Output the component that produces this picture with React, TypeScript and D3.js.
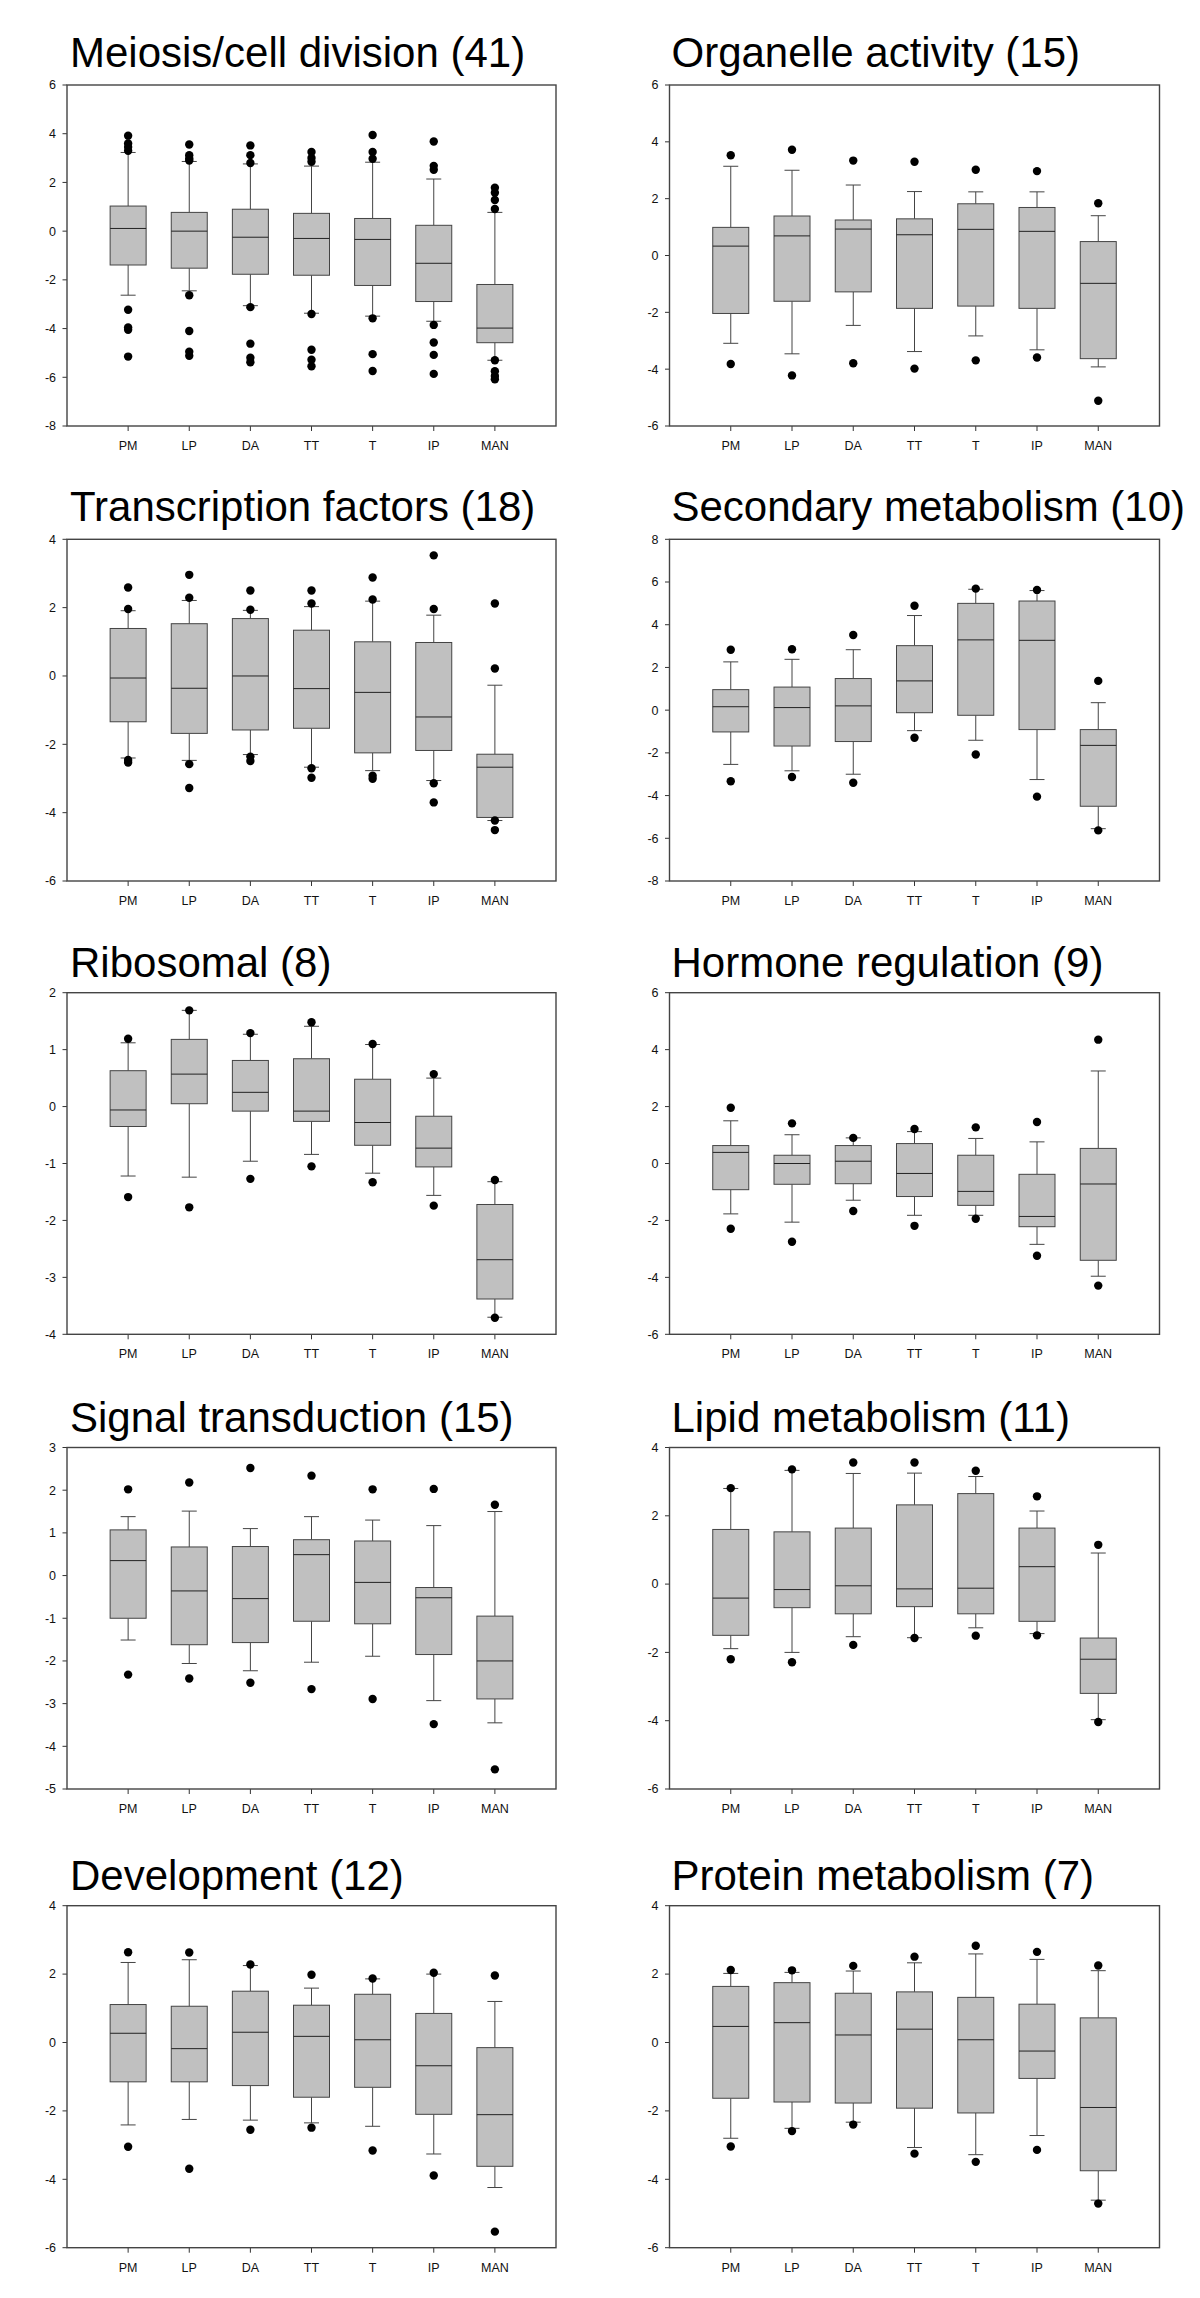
import React from 'react';
import * as d3 from 'd3';

const categories = ['PM', 'LP', 'DA', 'TT', 'T', 'IP', 'MAN'];

// Each box: [lower whisker, Q1, median, Q3, upper whisker]
const meiosisBoxes = [
  [-2.63, -1.39, 0.11, 1.03, 3.23],
  [-2.45, -1.52, 0.0, 0.77, 2.86],
  [-3.06, -1.77, -0.25, 0.9, 2.76],
  [-3.37, -1.81, -0.3, 0.73, 2.67],
  [-3.49, -2.23, -0.34, 0.52, 2.83],
  [-3.7, -2.89, -1.32, 0.24, 2.14],
  [-5.3, -4.58, -3.98, -2.19, 0.77],
];
const meiosisOutliers = [
  [3.92, 3.6, 3.45, 3.3, -3.23, -3.95, -4.05, -5.15],
  [3.56, 3.12, 2.98, 2.9, -2.63, -4.1, -4.95, -5.12],
  [3.52, 3.12, 2.8, -3.12, -4.62, -5.2, -5.38],
  [3.25, 3.0, 2.85, -3.4, -4.87, -5.28, -5.55],
  [3.95, 3.25, 2.97, -3.58, -5.05, -5.74],
  [3.68, 2.68, 2.52, -3.85, -4.57, -5.08, -5.86],
  [1.78, 1.58, 1.28, 0.91, -5.3, -5.75, -5.95, -6.08],
];

const organelleBoxes = [
  [-3.09, -2.04, 0.33, 0.99, 3.14],
  [-3.46, -1.61, 0.69, 1.39, 3.0],
  [-2.46, -1.28, 0.93, 1.25, 2.48],
  [-3.38, -1.86, 0.73, 1.29, 2.25],
  [-2.83, -1.78, 0.92, 1.82, 2.24],
  [-3.32, -1.86, 0.85, 1.69, 2.24],
  [-3.92, -3.63, -0.98, 0.49, 1.4],
];
const organelleOutliers = [
  [3.53, -3.82], [3.72, -4.22], [3.34, -3.79], [3.3, -3.98], [3.02, -3.69], [2.97, -3.59], [1.84, -5.11],
];

const transcriptionBoxes = [
  [-2.4, -1.34, -0.06, 1.39, 1.91],
  [-2.47, -1.68, -0.36, 1.53, 2.21],
  [-2.3, -1.58, 0.0, 1.68, 1.92],
  [-2.67, -1.53, -0.37, 1.34, 2.03],
  [-2.77, -2.25, -0.48, 1.0, 2.19],
  [-3.06, -2.18, -1.2, 0.98, 1.78],
  [-4.23, -4.14, -2.67, -2.29, -0.27],
];
const transcriptionOutliers = [
  [2.59, 1.96, -2.46, -2.53],
  [2.96, 2.29, -2.58, -3.28],
  [2.5, 1.94, -2.36, -2.49],
  [2.5, 2.12, -2.7, -2.98],
  [2.88, 2.24, -2.92, -3.01],
  [3.53, 1.96, -3.14, -3.7],
  [2.12, 0.22, -4.23, -4.51],
];

const secondaryBoxes = [
  [-2.54, -1.02, 0.16, 0.96, 2.26],
  [-2.84, -1.68, 0.12, 1.08, 2.38],
  [-3.0, -1.47, 0.2, 1.48, 2.83],
  [-0.96, -0.12, 1.37, 3.02, 4.43],
  [-1.41, -0.24, 3.29, 5.0, 5.66],
  [-3.25, -0.91, 3.27, 5.11, 5.6],
  [-5.55, -4.5, -1.65, -0.91, 0.35],
];
const secondaryOutliers = [
  [2.83, -3.33], [2.85, -3.13], [3.52, -3.4], [4.89, -1.29], [5.69, -2.08], [5.63, -4.05], [1.37, -5.63],
];

const ribosomalBoxes = [
  [-1.22, -0.35, -0.06, 0.63, 1.12],
  [-1.24, 0.05, 0.57, 1.18, 1.69],
  [-0.96, -0.08, 0.25, 0.81, 1.27],
  [-0.84, -0.26, -0.08, 0.84, 1.41],
  [-1.17, -0.68, -0.28, 0.48, 1.09],
  [-1.56, -1.06, -0.73, -0.17, 0.5],
  [-3.7, -3.38, -2.69, -1.72, -1.32],
];
const ribosomalOutliers = [
  [1.19, -1.59], [1.69, -1.77], [1.29, -1.27], [1.48, -1.05], [1.1, -1.33], [0.57, -1.74], [-1.29, -3.71],
];

const hormoneBoxes = [
  [-1.77, -0.92, 0.39, 0.63, 1.5],
  [-2.06, -0.73, 0.0, 0.29, 1.01],
  [-1.29, -0.71, 0.08, 0.63, 0.9],
  [-1.82, -1.16, -0.35, 0.7, 1.12],
  [-1.82, -1.47, -0.98, 0.29, 0.88],
  [-2.84, -2.22, -1.86, -0.38, 0.76],
  [-3.96, -3.4, -0.72, 0.53, 3.25],
];
const hormoneOutliers = [
  [1.96, -2.29], [1.41, -2.75], [0.9, -1.67], [1.21, -2.19], [1.27, -1.94], [1.46, -3.24], [4.35, -4.29],
];

const signalBoxes = [
  [-1.51, -1.0, 0.35, 1.07, 1.38],
  [-2.06, -1.62, -0.36, 0.67, 1.51],
  [-2.23, -1.57, -0.54, 0.68, 1.1],
  [-2.03, -1.07, 0.49, 0.84, 1.38],
  [-1.89, -1.13, -0.16, 0.81, 1.3],
  [-2.93, -1.85, -0.52, -0.28, 1.17],
  [-3.45, -2.89, -2.0, -0.95, 1.5],
];
const signalOutliers = [
  [2.02, -2.32], [2.18, -2.41], [2.52, -2.51], [2.34, -2.66], [2.02, -2.89], [2.03, -3.48], [1.66, -4.54],
];

const lipidBoxes = [
  [-1.89, -1.5, -0.41, 1.6, 2.8],
  [-2.0, -0.69, -0.16, 1.53, 3.33],
  [-1.54, -0.87, -0.05, 1.64, 3.24],
  [-1.57, -0.66, -0.14, 2.32, 3.25],
  [-1.28, -0.87, -0.12, 2.65, 3.15],
  [-1.45, -1.09, 0.51, 1.64, 2.14],
  [-3.97, -3.2, -2.2, -1.58, 0.91],
];
const lipidOutliers = [
  [2.81, -2.2], [3.36, -2.29], [3.56, -1.78], [3.56, -1.58], [3.32, -1.51], [2.57, -1.5], [1.15, -4.04],
];

const developmentBoxes = [
  [-2.41, -1.15, 0.27, 1.11, 2.34],
  [-2.25, -1.15, -0.18, 1.06, 2.42],
  [-2.27, -1.26, 0.3, 1.5, 2.25],
  [-2.35, -1.6, 0.18, 1.09, 1.59],
  [-2.45, -1.31, 0.08, 1.41, 1.86],
  [-3.26, -2.1, -0.68, 0.85, 2.0],
  [-4.24, -3.62, -2.11, -0.15, 1.2],
];
const developmentOutliers = [
  [2.64, -3.05], [2.63, -3.69], [2.28, -2.55], [1.98, -2.49], [1.87, -3.16], [2.04, -3.89], [1.96, -5.53],
];

const proteinBoxes = [
  [-2.8, -1.63, 0.47, 1.64, 2.02],
  [-2.51, -1.74, 0.58, 1.75, 2.05],
  [-2.33, -1.77, 0.22, 1.44, 2.09],
  [-3.07, -1.92, 0.39, 1.48, 2.33],
  [-3.28, -2.06, 0.08, 1.32, 2.59],
  [-2.72, -1.05, -0.25, 1.12, 2.43],
  [-4.61, -3.75, -1.9, 0.72, 2.1],
];
const proteinOutliers = [
  [2.12, -3.04], [2.11, -2.59], [2.24, -2.4], [2.51, -3.25], [2.83, -3.49], [2.65, -3.14], [2.25, -4.71],
];

const titles = [
  'Meiosis/cell division (41)', 'Organelle activity (15)',
  'Transcription factors (18)', 'Secondary metabolism (10)',
  'Ribosomal (8)', 'Hormone regulation (9)',
  'Signal transduction (15)', 'Lipid metabolism (11)',
  'Development (12)', 'Protein metabolism (7)',
];
const yDomains = [
  [-8, 6], [-6, 6],
  [-6, 4], [-8, 8],
  [-4, 2], [-6, 6],
  [-5, 3], [-6, 4],
  [-6, 4], [-6, 4],
];
const yTickSteps = [2, 2, 2, 2, 1, 2, 1, 2, 2, 2];
const allBoxes = [
  meiosisBoxes, organelleBoxes, transcriptionBoxes, secondaryBoxes, ribosomalBoxes,
  hormoneBoxes, signalBoxes, lipidBoxes, developmentBoxes, proteinBoxes,
];
const allOutliers = [
  meiosisOutliers, organelleOutliers, transcriptionOutliers, secondaryOutliers, ribosomalOutliers,
  hormoneOutliers, signalOutliers, lipidOutliers, developmentOutliers, proteinOutliers,
];

// layout
const colX = [[67, 556], [669.5, 1159.5]];
const rowY = [[85, 426], [539.3, 881], [992.7, 1334.3], [1447.5, 1789], [1905.7, 2247.7]];
const titleBase = [67, 520.5, 977, 1431.7, 1889.5];
const titleX = [70, 671.5];

const FONT = "'Liberation Sans', Arial, Helvetica, sans-serif";

function Panel({ idx }: { idx: number }) {
  const col = idx % 2;
  const row = Math.floor(idx / 2);
  const [x0, x1] = colX[col];
  const [y0, y1] = rowY[row];
  const domain = yDomains[idx];
  const step = yTickSteps[idx];
  const x = d3.scalePoint<string>().domain(categories).range([x0, x1]).padding(1);
  const y = d3.scaleLinear().domain(domain).range([y1, y0]);
  const ticks = d3.range(domain[0], domain[1] + step / 2, step);
  const boxes = allBoxes[idx];
  const outs = allOutliers[idx];
  const bw = 36;
  const cw = 15;
  return (
    <g>
      <text x={titleX[col]} y={titleBase[row]} fontSize={42} fontFamily={FONT} fill="#000">
        {titles[idx]}
      </text>
      {ticks.map((t) => (
        <g key={'yt' + t}>
          <line x1={x0 - 4.5} x2={x0} y1={y(t)} y2={y(t)} stroke="#333" strokeWidth={1} />
          <text x={x0 - 11} y={y(t)} dy="0.35em" textAnchor="end" fontSize={12.5} fontFamily={FONT} fill="#111">
            {String(t)}
          </text>
        </g>
      ))}
      {categories.map((c) => (
        <g key={'xt' + c}>
          <line x1={x(c)} x2={x(c)} y1={y1} y2={y1 + 5} stroke="#333" strokeWidth={1} />
          <text x={x(c)} y={y1 + 24} textAnchor="middle" fontSize={12.5} fontFamily={FONT} fill="#111">
            {c}
          </text>
        </g>
      ))}
      {categories.map((c, i) => {
        const [lo, q1, med, q3, hi] = boxes[i];
        const cx = x(c) as number;
        return (
          <g key={'b' + c}>
            <line x1={cx} x2={cx} y1={y(hi)} y2={y(q3)} stroke="#444" strokeWidth={1} />
            <line x1={cx} x2={cx} y1={y(q1)} y2={y(lo)} stroke="#444" strokeWidth={1} />
            <line x1={cx - cw / 2} x2={cx + cw / 2} y1={y(hi)} y2={y(hi)} stroke="#444" strokeWidth={1} />
            <line x1={cx - cw / 2} x2={cx + cw / 2} y1={y(lo)} y2={y(lo)} stroke="#444" strokeWidth={1} />
            <rect x={cx - bw / 2} y={y(q3)} width={bw} height={y(q1) - y(q3)} fill="#c0c0c0" stroke="#444" strokeWidth={1} />
            <line x1={cx - bw / 2} x2={cx + bw / 2} y1={y(med)} y2={y(med)} stroke="#222" strokeWidth={1} />
            {outs[i].map((v, j) => (
              <circle key={j} cx={cx} cy={y(v)} r={4.2} fill="#000" />
            ))}
          </g>
        );
      })}
      <rect x={x0} y={y0} width={x1 - x0} height={y1 - y0} fill="none" stroke="#444" strokeWidth={1.4} />
    </g>
  );
}

export default function App() {
  return (
    <svg
      width={1200}
      height={2298}
      style={{ position: 'absolute', left: 0, top: 0, background: '#fff' }}
    >
      <rect x={0} y={0} width={1200} height={2298} fill="#fff" />
      {titles.map((_, i) => (
        <Panel key={i} idx={i} />
      ))}
    </svg>
  );
}
